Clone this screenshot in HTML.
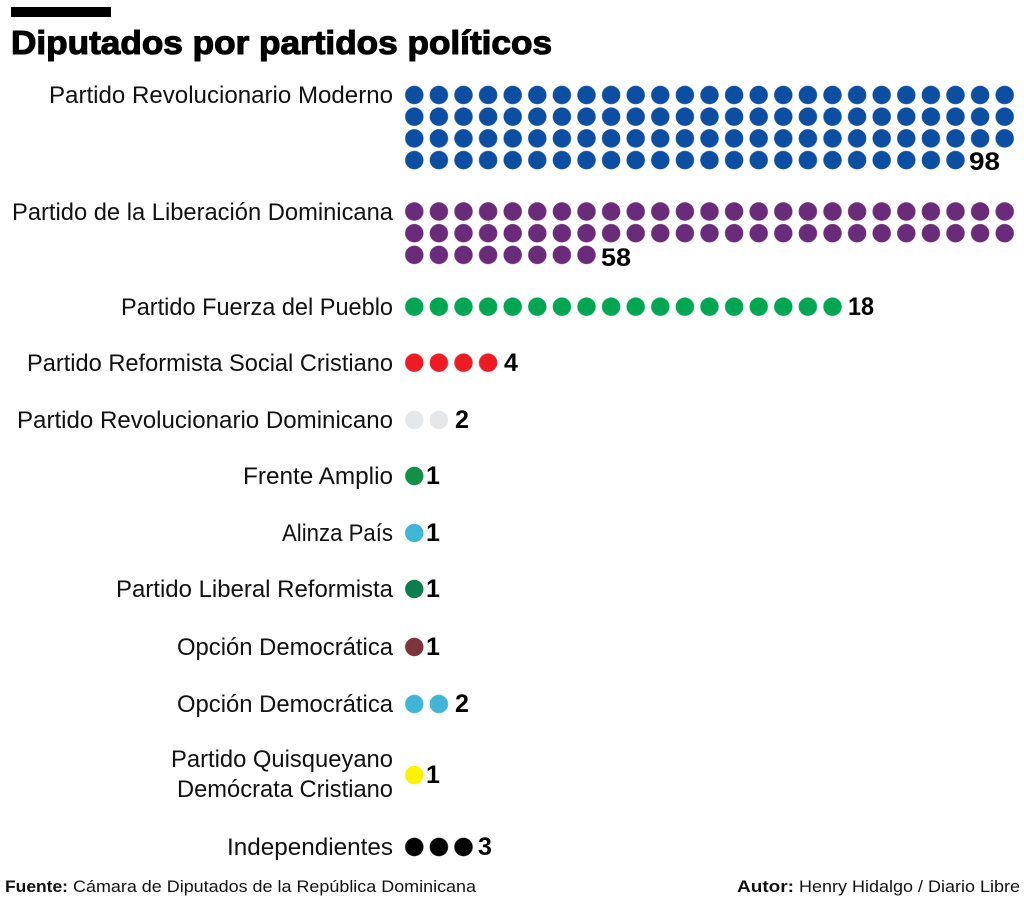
<!DOCTYPE html>
<html>
<head>
<meta charset="utf-8">
<style>
  html,body{margin:0;padding:0;background:#fff;}
  svg{display:block;}
  .lbl{font-family:"Liberation Sans",sans-serif;font-size:24px;fill:#111;}
  .num{font-family:"Liberation Sans",sans-serif;font-size:25px;font-weight:bold;fill:#000;}
  .ft{font-family:"Liberation Sans",sans-serif;font-size:17px;fill:#111;}
</style>
</head>
<body>
<svg width="1024" height="897" viewBox="0 0 1024 897" xmlns="http://www.w3.org/2000/svg">
  <defs>
    <pattern id="pBlue" patternUnits="userSpaceOnUse" width="24.6" height="21.7"><circle cx="12.3" cy="10.85" r="9.2" fill="#0c4ea2"/></pattern>
    <pattern id="pPurple" patternUnits="userSpaceOnUse" width="24.6" height="21.7"><circle cx="12.3" cy="10.85" r="9.2" fill="#6a2c7a"/></pattern>
    <pattern id="pGreen" patternUnits="userSpaceOnUse" width="24.6" height="21.7"><circle cx="12.3" cy="10.85" r="9.2" fill="#00a651"/></pattern>
    <pattern id="pRed" patternUnits="userSpaceOnUse" width="24.6" height="21.7"><circle cx="12.3" cy="10.85" r="9.2" fill="#ed1c24"/></pattern>
    <pattern id="pGray" patternUnits="userSpaceOnUse" width="24.6" height="21.7"><circle cx="12.3" cy="10.85" r="9.2" fill="#e5e8eb"/></pattern>
    <pattern id="pCyan" patternUnits="userSpaceOnUse" width="24.6" height="21.7"><circle cx="12.3" cy="10.85" r="9.2" fill="#40b5d5"/></pattern>
    <pattern id="pBlack" patternUnits="userSpaceOnUse" width="24.6" height="21.7"><circle cx="12.3" cy="10.85" r="9.2" fill="#000"/></pattern>
  </defs>

  <!-- Header -->
  <rect x="11" y="7" width="100" height="10" fill="#000"/>
  <text x="11" y="54" font-family="Liberation Sans, sans-serif" font-size="33" font-weight="bold" fill="#000" stroke="#000" stroke-width="1.1" textLength="541" lengthAdjust="spacingAndGlyphs">Diputados por partidos políticos</text>

  <!-- Partido Revolucionario Moderno: 98 -->
  <text class="lbl" x="49" y="103" textLength="344" lengthAdjust="spacingAndGlyphs">Partido Revolucionario Moderno</text>
  <g transform="translate(402,84.15)">
    <rect x="0" y="0" width="615" height="65.1" fill="url(#pBlue)"/>
    <rect x="0" y="65.1" width="565.8" height="21.7" fill="url(#pBlue)"/>
  </g>
  <text class="num" x="969" y="170" textLength="31" lengthAdjust="spacingAndGlyphs">98</text>

  <!-- Partido de la Liberación Dominicana: 58 -->
  <text class="lbl" x="12" y="220" textLength="381" lengthAdjust="spacingAndGlyphs">Partido de la Liberación Dominicana</text>
  <g transform="translate(402,200.65)">
    <rect x="0" y="0" width="615" height="43.4" fill="url(#pPurple)"/>
    <rect x="0" y="43.4" width="196.8" height="21.7" fill="url(#pPurple)"/>
  </g>
  <text class="num" x="601" y="266" textLength="30" lengthAdjust="spacingAndGlyphs">58</text>

  <!-- Partido Fuerza del Pueblo: 18 -->
  <text class="lbl" x="121" y="315" textLength="272" lengthAdjust="spacingAndGlyphs">Partido Fuerza del Pueblo</text>
  <g transform="translate(402,295.85)">
    <rect x="0" y="0" width="442.8" height="21.7" fill="url(#pGreen)"/>
  </g>
  <text class="num" x="848" y="315" textLength="26" lengthAdjust="spacingAndGlyphs">18</text>

  <!-- Partido Reformista Social Cristiano: 4 -->
  <text class="lbl" x="27" y="371" textLength="366" lengthAdjust="spacingAndGlyphs">Partido Reformista Social Cristiano</text>
  <g transform="translate(402,351.85)">
    <rect x="0" y="0" width="98.4" height="21.7" fill="url(#pRed)"/>
  </g>
  <text class="num" x="504" y="371">4</text>

  <!-- Partido Revolucionario Dominicano: 2 -->
  <text class="lbl" x="17" y="428" textLength="376" lengthAdjust="spacingAndGlyphs">Partido Revolucionario Dominicano</text>
  <g transform="translate(402,409.15)">
    <rect x="0" y="0" width="49.2" height="21.7" fill="url(#pGray)"/>
  </g>
  <text class="num" x="455" y="428">2</text>

  <!-- Frente Amplio: 1 -->
  <text class="lbl" x="243" y="484" textLength="150" lengthAdjust="spacingAndGlyphs">Frente Amplio</text>
  <circle cx="414.3" cy="476" r="9.2" fill="#129048"/>
  <text class="num" x="426" y="484">1</text>

  <!-- Alinza País: 1 -->
  <text class="lbl" x="282" y="541" textLength="111" lengthAdjust="spacingAndGlyphs">Alinza País</text>
  <circle cx="414.3" cy="533" r="9.2" fill="#40b5d5"/>
  <text class="num" x="426" y="541">1</text>

  <!-- Partido Liberal Reformista: 1 -->
  <text class="lbl" x="116" y="597" textLength="277" lengthAdjust="spacingAndGlyphs">Partido Liberal Reformista</text>
  <circle cx="414.3" cy="589" r="9.2" fill="#0b7d4e"/>
  <text class="num" x="426" y="597">1</text>

  <!-- Opción Democrática: 1 -->
  <text class="lbl" x="177" y="655" textLength="216" lengthAdjust="spacingAndGlyphs">Opción Democrática</text>
  <circle cx="414.3" cy="647" r="9.2" fill="#7b353b"/>
  <text class="num" x="426" y="655">1</text>

  <!-- Opción Democrática: 2 -->
  <text class="lbl" x="177" y="712" textLength="216" lengthAdjust="spacingAndGlyphs">Opción Democrática</text>
  <g transform="translate(402,693.15)">
    <rect x="0" y="0" width="49.2" height="21.7" fill="url(#pCyan)"/>
  </g>
  <text class="num" x="455" y="712">2</text>

  <!-- Partido Quisqueyano Demócrata Cristiano: 1 -->
  <text class="lbl" x="171" y="767" textLength="222" lengthAdjust="spacingAndGlyphs">Partido Quisqueyano</text>
  <text class="lbl" x="177" y="797" textLength="216" lengthAdjust="spacingAndGlyphs">Demócrata Cristiano</text>
  <circle cx="414.3" cy="775" r="9.2" fill="#fff200"/>
  <text class="num" x="426" y="783">1</text>

  <!-- Independientes: 3 -->
  <text class="lbl" x="227" y="855" textLength="166" lengthAdjust="spacingAndGlyphs">Independientes</text>
  <g transform="translate(402,836.15)">
    <rect x="0" y="0" width="73.8" height="21.7" fill="url(#pBlack)"/>
  </g>
  <text class="num" x="478" y="855">3</text>

  <!-- Footer -->
  <text class="ft" x="5" y="892" font-weight="bold" textLength="63" lengthAdjust="spacingAndGlyphs">Fuente:</text>
  <text class="ft" x="73" y="892" textLength="403" lengthAdjust="spacingAndGlyphs">Cámara de Diputados de la República Dominicana</text>
  <text class="ft" x="737" y="892" font-weight="bold" textLength="57" lengthAdjust="spacingAndGlyphs">Autor:</text>
  <text class="ft" x="799" y="892" textLength="221" lengthAdjust="spacingAndGlyphs">Henry Hidalgo / Diario Libre</text>
</svg>
</body>
</html>
